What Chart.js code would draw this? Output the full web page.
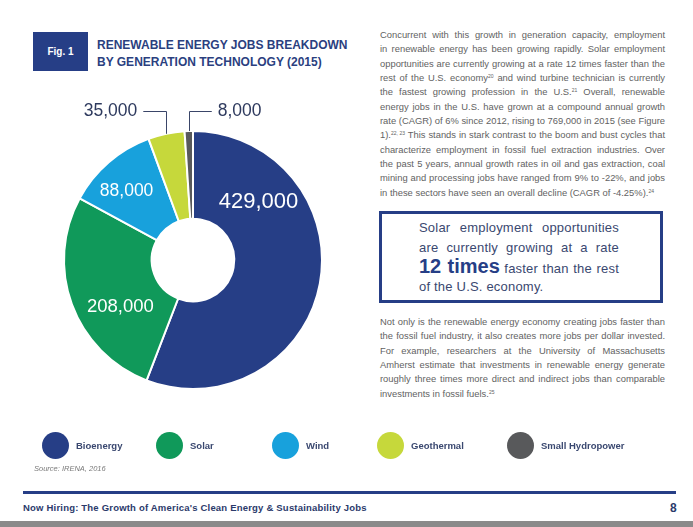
<!DOCTYPE html>
<html>
<head>
<meta charset="UTF-8" />
<script src="https://cdn.jsdelivr.net/npm/chart.js@4"></script>
<style>
  body {
    margin: 0;
    padding: 0;
    width: 693px;
    height: 527px;
    background: #fff;
    font-family: 'Liberation Sans', Arial, sans-serif;
    position: relative;
    overflow: hidden;
  }
  .abs { position: absolute; }
  .figbox {
    left: 33px; top: 32px; width: 55px; height: 39px;
    background: #263e86; color: #fff;
    font-weight: bold; font-size: 10px;
    display: flex; align-items: center; justify-content: center;
  }
  .title {
    left: 97px; top: 37px;
    color: #2b3f7f; font-weight: bold; font-size: 12px; line-height: 16.5px;
  }
  .para { left: 380px; width: 285px; color: #626262; font-size: 9.4px; }
  .para div { height: 14.36px; line-height: 14.36px; white-space: nowrap; }
  sup { font-size: 5px; vertical-align: 3px; line-height: 0; }
  .callout {
    left: 379px; top: 211px; width: 278px; height: 86px;
    border: 3px solid #263e86;
  }
  .callout-text { left: 419px; top: 218px; width: 200px; color: #3a4870; font-size: 13px; letter-spacing: 0.2px; }
  .callout-text div { height: 19.5px; line-height: 19.5px; white-space: nowrap; }
  .callout-text b { font-size: 20px; color: #263e86; letter-spacing: 0; }
  #chartWrap { left: 13px; top: 80px; width: 360px; height: 360px; }
  .leg-dot { width: 27px; height: 27px; border-radius: 50%; }
  .leg-label { font-size: 9.5px; font-weight: bold; color: #3a4870; }
  .source { left: 34px; top: 464px; font-size: 7.5px; font-style: italic; color: #7a7a7a; }
  .rule { left: 23px; top: 491px; width: 653px; height: 3px; background: #263e86; }
  .footer { left: 23px; top: 502px; font-size: 9.5px; letter-spacing: 0.2px; font-weight: bold; color: #2b3a6b; }
  .pageno { left: 670px; top: 501px; font-size: 12px; font-weight: bold; color: #2b3a6b; }
  .greybar { left: 0; top: 521px; width: 693px; height: 6px; background: #8a8a8a; }
</style>
</head>
<body>
  <div class="abs figbox">Fig. 1</div>
  <div class="abs title">RENEWABLE ENERGY JOBS BREAKDOWN<br>BY GENERATION TECHNOLOGY (2015)</div>

  <div class="abs para" style="top: 27.8px;">
    <div class="j">Concurrent with this growth in generation capacity, employment</div>
    <div class="j">in renewable energy has been growing rapidly. Solar employment</div>
    <div class="j">opportunities are currently growing at a rate 12 times faster than the</div>
    <div class="j">rest of the U.S. economy<sup>20</sup> and wind turbine technician is currently</div>
    <div class="j">the fastest growing profession in the U.S.<sup>21</sup> Overall, renewable</div>
    <div class="j">energy jobs in the U.S. have grown at a compound annual growth</div>
    <div class="j">rate (CAGR) of 6% since 2012, rising to 769,000 in 2015 (see Figure</div>
    <div class="j">1).<sup>22, 23</sup> This stands in stark contrast to the boom and bust cycles that</div>
    <div class="j">characterize employment in fossil fuel extraction industries. Over</div>
    <div class="j">the past 5 years, annual growth rates in oil and gas extraction, coal</div>
    <div class="j">mining and processing jobs have ranged from 9% to -22%, and jobs</div>
    <div>in these sectors have seen an overall decline (CAGR of -4.25%).<sup>24</sup></div>
  </div>

  <div class="abs callout"></div>
  <div class="abs callout-text">
    <div class="j">Solar employment opportunities</div>
    <div class="j">are currently growing at a rate</div>
    <div class="j"><b>12 times</b> faster than the rest</div>
    <div>of the U.S. economy.</div>
  </div>

  <div class="abs para" style="top: 314.8px;">
    <div class="j">Not only is the renewable energy economy creating jobs faster than</div>
    <div class="j">the fossil fuel industry, it also creates more jobs per dollar invested.</div>
    <div class="j">For example, researchers at the University of Massachusetts</div>
    <div class="j">Amherst estimate that investments in renewable energy generate</div>
    <div class="j">roughly three times more direct and indirect jobs than comparable</div>
    <div>investments in fossil fuels.<sup>25</sup></div>
  </div>

  <div class="abs" id="chartWrap"><canvas id="jobsChart" width="360" height="360"></canvas></div>
  <div id="legend"></div>

  <div class="abs source">Source: IRENA, 2016</div>
  <div class="abs rule"></div>
  <div class="abs footer">Now Hiring: The Growth of America's Clean Energy &amp; Sustainability Jobs</div>
  <div class="abs pageno">8</div>
  <div class="abs greybar"></div>

<script>
  // data
  const technologies = ['Bioenergy', 'Solar', 'Wind', 'Geothermal', 'Small Hydropower'];
  const jobs = [429000, 208000, 88000, 35000, 8000];
  const sliceColors = ['#263e86', '#10995a', '#18a1dc', '#c6d83b', '#58595b'];

  // where each value label sits (fraction along the arc, fraction of radius), or leader side for tiny slices
  const labelLayout = [
    { f: 0.24, r: 0.68, size: 22 },
    { f: 0.37, r: 0.67, size: 18.5 },
    { f: 0.42, r: 0.74, size: 17.5 },
    { side: -1, size: 17.5 },
    { side: 1, size: 17.5 },
  ];
  // legend columns (dot centre x)
  const legendX = [55, 169, 285, 390, 520];

  // justify lines by word spacing, so the line breaks stay as in print
  document.querySelectorAll('.j').forEach(el => {
    const target = el.parentElement.clientWidth;
    el.style.display = 'inline-block';
    const w = el.getBoundingClientRect().width;
    el.style.display = 'block';
    const gaps = (el.textContent.match(/ /g) || []).length;
    if (gaps) el.style.wordSpacing = ((target - w) / gaps) + 'px';
  });

  const fmt = v => v.toLocaleString('en-US');

  const valueLabels = {
    id: 'valueLabels',
    afterDatasetsDraw(chart) {
      const ctx = chart.ctx;
      const arcs = chart.getDatasetMeta(0).data;
      ctx.save();
      ctx.textBaseline = 'middle';
      arcs.forEach((arc, i) => {
        const p = arc.getProps(['x', 'y', 'startAngle', 'endAngle', 'outerRadius']);
        const lay = labelLayout[i];
        const txt = fmt(jobs[i]);
        ctx.font = lay.size + "px 'Liberation Sans', Arial, sans-serif";
        if (lay.side === undefined) {
          const a = p.startAngle + lay.f * (p.endAngle - p.startAngle);
          const rr = lay.r * p.outerRadius;
          ctx.fillStyle = '#fff';
          ctx.textAlign = 'center';
          ctx.fillText(txt, p.x + Math.cos(a) * rr, p.y + Math.sin(a) * rr);
        } else {
          const a = (p.startAngle + p.endAngle) / 2;
          const ex = p.x + Math.cos(a) * p.outerRadius;
          const ey = p.y + Math.sin(a) * p.outerRadius;
          const ly = p.y - p.outerRadius - 20;
          const hx = ex + lay.side * 23;
          ctx.strokeStyle = '#3a4568';
          ctx.lineWidth = 1;
          ctx.beginPath();
          ctx.moveTo(Math.round(ex) + 0.5, ey);
          ctx.lineTo(Math.round(ex) + 0.5, Math.round(ly) + 0.5);
          ctx.lineTo(hx, Math.round(ly) + 0.5);
          ctx.stroke();
          ctx.fillStyle = '#2e3a5e';
          ctx.textAlign = lay.side < 0 ? 'right' : 'left';
          ctx.fillText(txt, hx + lay.side * 6, ly);
        }
      });
      ctx.restore();
    }
  };

  new Chart(document.getElementById('jobsChart'), {
    type: 'doughnut',
    data: {
      labels: technologies,
      datasets: [{
        data: jobs,
        backgroundColor: sliceColors,
        borderColor: '#fff',
        borderWidth: 2,
      }],
    },
    options: {
      responsive: false,
      maintainAspectRatio: false,
      animation: false,
      cutout: '32%',
      layout: { padding: 50 },
      plugins: {
        legend: { display: false },
        tooltip: { enabled: false },
      },
    },
    plugins: [valueLabels],
  });

  // legend built from the same arrays
  const legend = document.getElementById('legend');
  technologies.forEach((name, i) => {
    const dot = document.createElement('div');
    dot.className = 'abs leg-dot';
    dot.style.left = (legendX[i] - 13.5) + 'px';
    dot.style.top = '431.5px';
    dot.style.background = sliceColors[i];
    legend.appendChild(dot);
    const lab = document.createElement('div');
    lab.className = 'abs leg-label';
    lab.style.left = (legendX[i] + 21) + 'px';
    lab.style.top = '439.5px';
    lab.textContent = name;
    legend.appendChild(lab);
  });
</script>
</body>
</html>
